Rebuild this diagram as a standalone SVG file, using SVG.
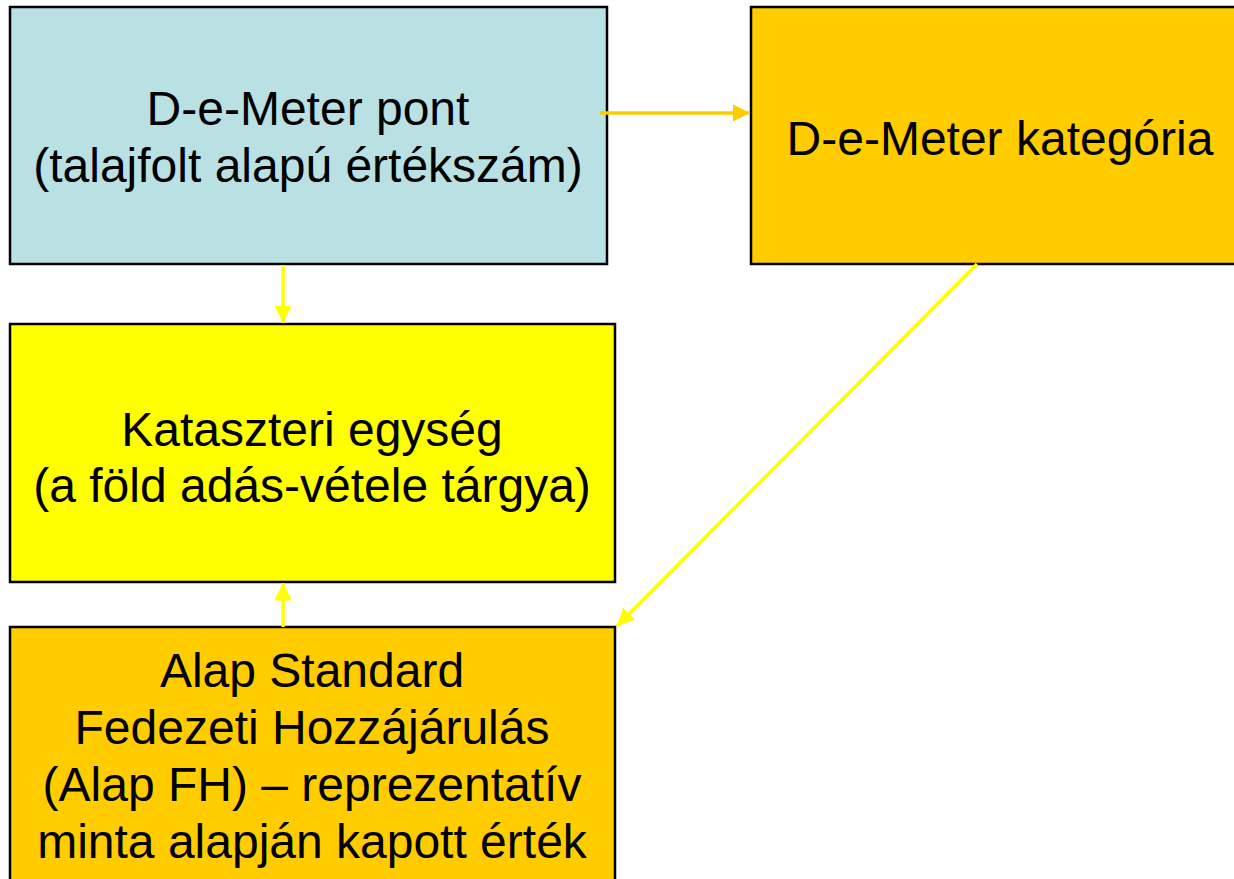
<svg xmlns="http://www.w3.org/2000/svg" width="1234" height="879" viewBox="0 0 1234 879">
<defs>
<style>
.box{stroke:#000;stroke-width:2.5}
.t{font-family:"Liberation Sans",Arial,sans-serif;font-size:48px;fill:#000;text-anchor:middle}
.cy{stroke:#FFFF00;stroke-width:3.5;fill:none}
.co{stroke:#FFCC00;stroke-width:3.5;fill:none}
</style>
<marker id="ay" viewBox="0 0 10 10" refX="10" refY="5" markerWidth="5" markerHeight="5" markerUnits="strokeWidth" orient="auto"><path d="M0,0 L10,5 L0,10 z" fill="#FFFF00"/></marker>
<marker id="ao" viewBox="0 0 10 10" refX="10" refY="5" markerWidth="5" markerHeight="5" markerUnits="strokeWidth" orient="auto"><path d="M0,0 L10,5 L0,10 z" fill="#FFCC00"/></marker>
</defs>
<rect width="1234" height="879" fill="#fff"/>
<g id="node-pont">
<rect class="box" x="10" y="7" width="597" height="257" fill="#B9E0E3"/>
<text class="t" x="308" y="125">D-e-Meter pont</text>
<text class="t" x="308" y="182">(talajfolt alapú értékszám)</text>
</g>
<g id="node-kategoria">
<rect class="box" x="751" y="7" width="500" height="257" fill="#FFCC00"/>
<text class="t" x="1000" y="155">D-e-Meter kategória</text>
</g>
<g id="node-kataszteri">
<rect class="box" x="10" y="324" width="605" height="258" fill="#FFFF00"/>
<text class="t" x="312" y="446">Kataszteri egység</text>
<text class="t" x="312" y="502">(a föld adás-vétele tárgya)</text>
</g>
<g id="node-alap">
<rect class="box" x="10" y="627" width="605" height="270" fill="#FFCC00"/>
<text class="t" x="312" y="687">Alap Standard</text>
<text class="t" x="312" y="744">Fedezeti Hozzájárulás</text>
<text class="t" x="312" y="801">(Alap FH) – reprezentatív</text>
<text class="t" x="312" y="858">minta alapján kapott érték</text>
</g>
<g id="connectors">
<line class="co" x1="600" y1="113" x2="750" y2="113" marker-end="url(#ao)"/>
<line class="cy" x1="283" y1="265" x2="283" y2="323" marker-end="url(#ay)"/>
<line class="cy" x1="283" y1="627" x2="283" y2="583" marker-end="url(#ay)"/>
<line class="cy" x1="977" y1="264" x2="617" y2="626" marker-end="url(#ay)"/>
</g>
</svg>
